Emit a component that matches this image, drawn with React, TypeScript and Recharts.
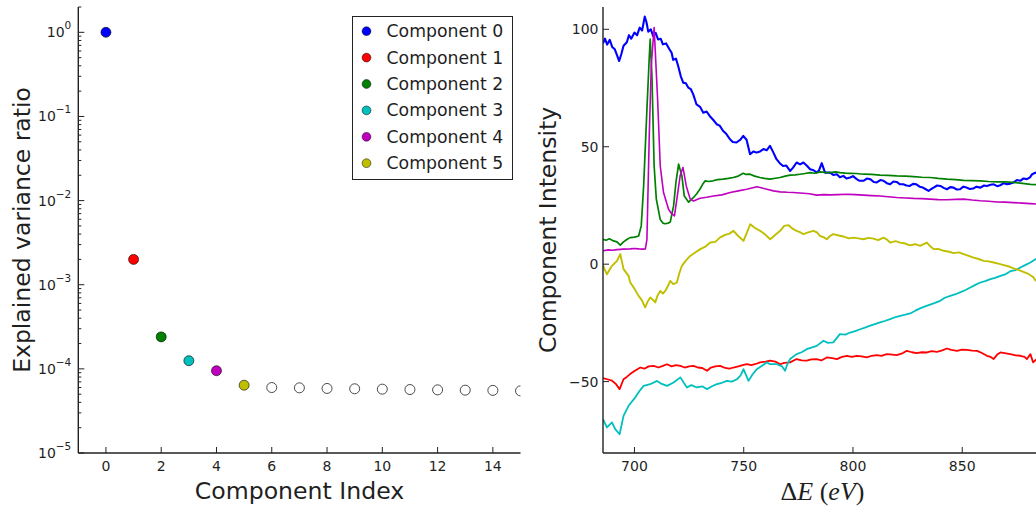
import React from 'react';
import { ScatterChart, Scatter, LineChart, Line, XAxis, YAxis, Label } from 'recharts';

const FONT = '"DejaVu Sans", sans-serif';
const INK = '#1f1f1f';
const FRAME = { stroke: '#222', strokeWidth: 1.4 };

// ---------- data: left panel ----------
const componentNames = ['Component 0', 'Component 1', 'Component 2', 'Component 3', 'Component 4', 'Component 5'];
const componentColors = ['#0000ff', '#ff0000', '#008000', '#00bfbf', '#bf00bf', '#bfbf00'];
const componentIndex = [0, 1, 2, 3, 4, 5, 6, 7, 8, 9, 10, 11, 12, 13, 14, 15];
const explainedVariance = [1.0, 2.0e-3, 2.4e-4, 1.25e-4, 9.5e-5, 6.4e-5, 6.0e-5, 5.95e-5, 5.85e-5, 5.8e-5, 5.74e-5, 5.68e-5, 5.63e-5, 5.58e-5, 5.55e-5, 5.48e-5];
const indexTicks = [0, 2, 4, 6, 8, 10, 12, 14];
const decadeTicks = [1e-5, 1e-4, 1e-3, 1e-2, 1e-1, 1];

// ---------- data: right panel (energy eV, intensity) ----------
const energyTicks = [700, 750, 800, 850];
const intensityTicks = [-50, 0, 50, 100];

const comp0: [number, number][] = [
  [685.6, 94], [686.5, 96], [687.5, 93.5], [688.7, 95.5], [689.8, 92.5], [691, 91.5], [692, 89], [693, 86.5], [694, 89.5], [695, 93],
  [696.5, 94.5], [697.5, 97.5], [698.5, 96], [700, 98.6], [701.2, 97.5], [702.4, 100.7], [703.5, 99.5], [704.7, 105.4], [705.5, 103], [706.3, 99],
  [707.5, 100], [708.6, 97], [709.7, 98.5], [710.8, 95.7], [712, 96], [713, 93.6], [714.5, 94], [716, 91.5], [717, 90], [717.7, 87],
  [719, 87.5], [720, 84.4], [721.2, 80], [722.3, 77.3], [723.5, 77], [724.6, 75.2], [725.8, 74.5], [726.9, 72.3], [728.4, 68], [730, 67],
  [731.5, 64.5], [733, 65], [734.5, 63], [736, 61.5], [737.6, 59.6], [739, 59], [740.6, 56.7], [742, 55.5], [743.7, 53.2], [745, 52],
  [746.7, 51.8], [748.5, 53], [749.8, 54.6], [751.3, 53], [752.9, 46.8], [754.5, 48], [755.9, 47.5], [757.5, 48], [759, 49], [760.5, 48.5],
  [762, 50.4], [763.6, 47.5], [765, 44.7], [766.5, 43], [768, 41.8], [769.5, 42], [771.2, 39.7], [772.5, 41], [774.2, 43.3], [775.8, 42.5],
  [777.3, 43.3], [778.8, 42], [780.4, 40.4], [782, 40], [783.4, 39], [784.5, 40], [785.7, 43], [787.2, 39], [789.5, 39], [791, 38],
  [792.6, 38.3], [794, 37], [795.6, 37.6], [797, 36.5], [798.7, 36.9], [800, 37.5], [801.7, 36.2], [803, 35.5], [804.8, 35.5], [806.5, 36.5],
  [807.9, 36.2], [809.5, 35], [810.9, 34.8], [812.5, 35.8], [814, 35.5], [815.5, 34.5], [817, 34], [818.5, 35.2], [820, 35], [821.5, 34],
  [823, 34], [824.5, 33.5], [826, 33.3], [827.5, 34.2], [829, 34], [830.5, 33], [832, 32.6], [833.5, 31.8], [834.6, 31.2], [835.8, 32],
  [836.9, 32.6], [838.5, 33.5], [840, 33.3], [841.5, 32.5], [843, 31.9], [844.5, 32.8], [846, 32.6], [847.5, 31.8], [849, 31.9], [850.5, 33],
  [852, 32.6], [853.5, 32], [855, 32.2], [856.5, 33], [858.3, 32.6], [860, 33.5], [861.3, 33.3], [863, 33.8], [864.4, 34], [866, 33.2],
  [867.4, 33.6], [869, 34.5], [870.5, 34], [872, 34.3], [873.5, 34.8], [875, 35.8], [876.6, 35.5], [878, 36.5], [879.6, 36.2], [881, 37],
  [882, 38.3], [883.5, 39], [885, 38], [886.5, 38.5],
];

const comp1: [number, number][] = [
  [685.6, -48.5], [687.5, -49], [689.7, -49.6], [691.5, -51], [693.2, -53.2], [695, -49], [696.5, -48], [698, -46.8], [700, -45.5], [702.7, -44],
  [704.5, -44.5], [706.5, -43.5], [708.8, -43.3], [711, -44], [713, -43.3], [714.9, -42.6], [717, -43.5], [719, -43], [721, -43.3], [723, -44],
  [725, -43.5], [727, -43.3], [729, -44], [731, -44.2], [733.2, -45.4], [735, -44], [737, -43.5], [739.2, -43.3], [741.5, -44.2], [743.5, -44.5],
  [745.3, -44], [747.5, -43.5], [749.5, -43], [751.4, -42.6], [753.5, -43], [755.5, -42.5], [757.5, -41.8], [760, -41.5], [762.1, -41.1], [764.5, -41.5],
  [766.7, -42.6], [768.5, -42], [771.2, -41.8], [774.2, -40.4], [776.5, -41], [778.8, -41.1], [781, -40.5], [783.4, -40.4], [785.5, -41], [788, -39.7],
  [790.5, -40], [792.6, -40.4], [795, -39.5], [797.2, -39], [799.5, -39.5], [801.7, -39], [804, -39.3], [806.3, -39.7], [808.5, -39], [810.9, -38.7],
  [813, -39], [815.5, -38.3], [818, -38.5], [820, -38.7], [822.5, -38], [824.6, -36.9], [827, -37.5], [829.2, -37.9], [831.5, -37.5], [833.8, -37.6],
  [836, -37], [838.4, -37.3], [840.5, -36.8], [843, -35.9], [845, -36.5], [847.6, -36.9], [850, -36.4], [852.2, -36.5], [854.5, -36.8], [856.8, -36.9],
  [859, -37.8], [861.3, -39], [863, -39.5], [864.4, -40.4], [866, -38.5], [867.5, -37.6], [870, -38], [872, -38.3], [874.5, -38.8], [876.6, -39],
  [878.5, -39.5], [879.6, -40.4], [881.2, -38.3], [882.4, -41.8], [884, -40.5], [886.5, -41],
];

const comp2: [number, number][] = [
  [685.6, 10.6], [687, 10.2], [688.5, 10.8], [690.4, 9.9], [692, 9.5], [693.5, 8.1], [695, 9.5], [696.5, 10.5], [698, 11.3], [700, 11.5],
  [701.9, 12], [703.1, 16.3], [704.2, 33.3], [705.7, 66], [706.8, 88.6], [707.2, 95.8], [708, 80], [709, 41.8], [710, 27.7], [711.8, 19],
  [713, 17.5], [714, 17.2], [715.5, 17.5], [716.4, 18], [717.9, 24.8], [719, 35], [720.2, 42.6], [721.7, 37.6], [722.8, 29], [724.8, 26.4],
  [727, 28.4], [728.5, 30], [730, 32], [731.2, 34], [732.4, 35.5], [734, 35.2], [736, 35.5], [738, 36], [740.6, 36.2], [743, 36.5],
  [745.2, 36.9], [747.5, 37.5], [749.8, 38.7], [751, 38.2], [752.9, 38.3], [755, 37.5], [757.4, 36.9], [759.5, 36.5], [762, 36.2], [764.5, 36.6],
  [766.6, 36.9], [769, 37.5], [771.2, 37.9], [773.5, 38], [775.8, 38.3], [778, 38.6], [780.4, 39], [782.5, 38.7], [784.9, 39.3], [787, 39.1],
  [789.5, 39], [792, 39.3], [794, 39], [796.5, 38.8], [798.7, 38.7], [801.5, 38.6], [804.8, 38.3], [808.5, 38.2], [812.4, 37.9], [816, 37.8],
  [820, 37.6], [824, 37.5], [827.7, 37.3], [831.5, 37], [835.3, 36.9], [839, 36.5], [843, 36.2], [847, 36], [850.6, 35.7], [854.5, 35.6],
  [858.3, 35.5], [862, 35.2], [865.9, 35], [869.5, 35], [873.5, 34.8], [877.5, 34.4], [881.2, 34], [884, 33.9], [886.5, 33.8],
];

const comp3: [number, number][] = [
  [685.6, -66], [687.4, -69.5], [689.7, -67.4], [691.2, -70.2], [693.2, -72.4], [695, -64.6], [697.3, -60.3], [700.4, -56.7], [702.3, -54], [704.2, -51.8],
  [707.2, -51.1], [710.3, -49.7], [712.5, -51], [714.9, -51.8], [717.9, -50.4], [721, -48.2], [724, -52.5], [726, -51.5], [728.6, -52.5], [731, -52],
  [733.2, -53.2], [735.5, -52], [737.7, -51.1], [740, -50.5], [742.3, -49.7], [744.5, -50], [746.9, -49], [748.5, -47.5], [749.9, -44.7], [752.2, -49.7],
  [754, -47], [756, -44.7], [758, -43.5], [760.6, -41.8], [762, -42.6], [765.2, -42.6], [767.5, -43.5], [768.9, -45.4], [770, -42.5], [771.2, -40.4],
  [774.2, -38.3], [776.5, -37.5], [778.8, -36.2], [781, -35.5], [783.4, -34.8], [786.5, -32.6], [788.5, -33.5], [791, -33.3], [794, -29.8], [796.5, -30],
  [798.7, -29.1], [801, -28.5], [803.3, -27.7], [805.5, -27], [807.9, -26.2], [810, -25.5], [812.4, -24.8], [814.5, -24.2], [817, -23.4], [819.5, -22.5],
  [821.6, -22], [824, -21.5], [826.2, -21], [828.5, -19.8], [830.7, -18.8], [833, -18], [835.3, -17.2], [837.5, -16.5], [839.9, -15.6], [842, -14.3],
  [844.5, -13.5], [847, -12.8], [849, -12], [851.5, -11], [853.7, -9.9], [856, -8.8], [858.3, -7.8], [860.5, -7.2], [862.9, -6.4], [865, -5.8],
  [867.5, -5], [870, -4.2], [872, -3], [874.5, -2.5], [876.6, -1.4], [879, -0.3], [881.2, 0.7], [883.5, 2.1], [885, 2.5], [886.5, 3],
];

const comp4: [number, number][] = [
  [685.6, 5.7], [688, 6.1], [690, 5.9], [692, 6.2], [695, 6.4], [698, 6.5], [700, 6.7], [702, 6.5], [704, 6.4], [705, 6.5],
  [705.7, 10.6], [706.8, 56], [707.7, 84.8], [709, 100.8], [710.6, 70], [711.8, 41.8], [713.3, 30.5], [715.6, 23.4], [717, 21.5], [718.3, 20.6],
  [719.4, 27.7], [720.9, 37.6], [722.2, 41.2], [723.7, 33.3], [725.5, 27.7], [727, 26.9], [730, 28.1], [733, 28.5], [736.2, 29], [740, 29.5],
  [743.8, 30.5], [747.5, 31.2], [751.4, 31.9], [756, 33], [758, 32.5], [760.6, 31.9], [763.6, 31.2], [766.7, 30.8], [770, 30.6], [772.7, 30.5],
  [777.3, 30.2], [780, 30], [783.4, 29.4], [786.5, 29.6], [789.5, 29.5], [793, 29.6], [797.2, 29.8], [801, 29.6], [804.8, 29.4], [808.5, 29.2],
  [812.4, 29], [816, 28.7], [820, 28.4], [824, 28.2], [827.7, 28], [831.5, 27.9], [835.3, 27.7], [839, 27.5], [843, 27.4], [847, 27.6],
  [850.6, 27.7], [854.5, 27.3], [858.3, 27], [862, 26.8], [865.9, 26.5], [869.5, 26.4], [873.5, 26.2], [877.5, 26], [881.2, 25.8], [884, 25.6],
  [886.5, 25.5],
];

const comp5: [number, number][] = [
  [685.6, -0.5], [687.4, -4.3], [689.7, -0.7], [692, 1.4], [693.5, 4.3], [695, -2.1], [697.3, -5], [698.1, -7.8], [700, -10.5], [701.9, -13.5],
  [703.5, -15.5], [704.9, -18.4], [706, -16], [707.2, -14.2], [708.3, -15], [709.5, -16.3], [710.5, -13.5], [711.8, -11.4], [713, -12.5], [714.1, -11.4],
  [715.2, -9.5], [716.4, -7.1], [717.8, -8.5], [719.4, -7.8], [720.5, -4], [721.7, -0.7], [723.5, 1.5], [725.5, 3.5], [727.8, 5], [730.1, 6.4],
  [732.5, 7.5], [734.7, 9.2], [737, 9.5], [739.2, 11.4], [741.5, 12.5], [743.5, 13], [745.3, 14.2], [747.5, 12], [749.9, 9.9], [751.5, 13.5],
  [753, 17], [755, 15.5], [757.5, 14.2], [760, 12.5], [762.1, 10.6], [764.5, 12.5], [766.7, 14.2], [768.5, 16.3], [770.5, 16.6], [772.5, 15],
  [774.2, 14.2], [776, 13.5], [777.3, 12.8], [779.5, 13.5], [781.9, 14.2], [783.5, 13.5], [784.9, 12], [786.5, 11.5], [788, 10.6], [789.5, 12],
  [791, 12.8], [793.5, 12.2], [795.6, 11.8], [798, 11], [800.2, 11.3], [802.5, 11], [804.8, 10.6], [807, 11.2], [809.4, 10.9], [811.5, 10.2],
  [814, 11.3], [815.5, 10.5], [817, 9.2], [819.5, 9.8], [821.6, 9.2], [824, 8.8], [826, 8], [828.5, 8.5], [830.7, 7.8], [832.3, 8.5],
  [833.8, 9.2], [835.5, 7.5], [836.9, 6.4], [839, 6.5], [841.5, 5.7], [844, 5.3], [846, 4.7], [848.5, 5], [850.6, 4.3], [853, 3.5],
  [855.2, 2.8], [857.5, 2.2], [859.8, 1.4], [862, 1.2], [864.4, 0.7], [866.5, 0.2], [869, -0.4], [871.5, -1], [873.5, -1.8], [876, -2.5],
  [878, -3.3], [880, -4], [881.2, -4.7], [882.5, -5.5], [883.5, -7], [885, -6.5], [886.5, -7.5],
];

const spectra = [comp0, comp1, comp2, comp3, comp4, comp5];
const lineWidths = [2.1, 1.8, 1.7, 1.8, 1.6, 1.9];

// ---------- layout ----------
const minorLogTicks: number[] = [];
for (let k = -5; k <= 0; k++) {
  for (let m = 2; m <= 9; m++) {
    const v = m * Math.pow(10, k);
    if (v <= 2) minorLogTicks.push(v);
  }
}
const allLogTicks = [...decadeTicks, ...minorLogTicks].sort((a, b) => a - b);
const isDecade = (v: number) => decadeTicks.some((d) => Math.abs(d - v) / d < 1e-6);

const supText = (exp: number) => (exp < 0 ? '\u2212' + String(-exp) : String(exp));
const fmtInt = (v: number) => (v < 0 ? '\u2212' + String(-v) : String(v));

const tickStroke = '#222';

const bottomTick = (labelled: boolean) => (p: any) => (
  <g>
    <line x1={p.x} x2={p.x} y1={p.y} y2={p.y - 6} stroke={tickStroke} strokeWidth={1} />
    {labelled && (
      <text x={p.x} y={p.y + 17.5} textAnchor="middle" fontSize={14} fontFamily={FONT} fill={INK}>
        {fmtInt(p.payload.value)}
      </text>
    )}
  </g>
);

const topTick = (p: any) => (
  <g>
    <line x1={p.x} x2={p.x} y1={p.y} y2={p.y + 6} stroke={tickStroke} strokeWidth={1} />
  </g>
);

const leftLogTick = (p: any) => {
  const v = p.payload.value;
  const major = isDecade(v);
  const exp = Math.round(Math.log10(v));
  return (
    <g>
      <line x1={p.x} x2={p.x + (major ? 6 : 3)} y1={p.y} y2={p.y} stroke={tickStroke} strokeWidth={1} />
      {major && (
        <text x={p.x - 7} y={p.y} textAnchor="end" fontSize={14} fontFamily={FONT} fill={INK} dominantBaseline="central">
          <tspan>10</tspan>
          <tspan dy={-7} fontSize={10.5}>{supText(exp)}</tspan>
        </text>
      )}
    </g>
  );
};

const rightLogTick = (p: any) => {
  const major = isDecade(p.payload.value);
  return (
    <g>
      <line x1={p.x} x2={p.x - (major ? 6 : 3)} y1={p.y} y2={p.y} stroke={tickStroke} strokeWidth={1} />
    </g>
  );
};

const leftLinTick = (p: any) => (
  <g>
    <line x1={p.x} x2={p.x + 6} y1={p.y} y2={p.y} stroke={tickStroke} strokeWidth={1} />
    <text x={p.x - 4.5} y={p.y} textAnchor="end" fontSize={14} fontFamily={FONT} fill={INK} dominantBaseline="central">
      {fmtInt(p.payload.value)}
    </text>
  </g>
);

const rightLinTick = (p: any) => (
  <g>
    <line x1={p.x} x2={p.x - 6} y1={p.y} y2={p.y} stroke={tickStroke} strokeWidth={1} />
  </g>
);

const dotShape = (fill: string, stroke: string, sw: number) => (p: any) => (
  <circle cx={p.cx} cy={p.cy} r={5} fill={fill} stroke={stroke} strokeWidth={sw} />
);

const Legend6 = () => (
  <div
    style={{
      position: 'absolute', left: 351.5, top: 16, width: 161, height: 164, boxSizing: 'border-box',
      border: '1.6px solid #222', background: '#fff',
    }}
  >
    <svg width={158} height={161} style={{ display: 'block' }}>
      {componentNames.map((n, i) => (
        <g key={n}>
          <circle cx={13.5} cy={14.2 + i * 26.4} r={4.4} fill={componentColors[i]} stroke="#000" strokeWidth={0.5} />
          <text x={33.5} y={14.2 + i * 26.4} fontSize={17.3} fontFamily={FONT} fill={INK} dominantBaseline="central">
            {n}
          </text>
        </g>
      ))}
    </svg>
  </div>
);

export default function App() {
  const points = componentIndex.map((x, i) => ({ x, y: explainedVariance[i] }));
  const seriesData = spectra.map((s) => s.map(([e, v]) => ({ e, v })));
  return (
    <div
      style={{
        position: 'fixed', left: 0, top: 0, width: 1036, height: 508, overflow: 'hidden',
        background: '#fff', fontFamily: FONT,
      }}
    >
      <div style={{ position: 'absolute', left: 0, top: 0 }}>
        <ScatterChart width={540} height={508} margin={{ top: 7, right: 19.5, bottom: 0, left: 0 }}>
          <XAxis
            xAxisId="b" type="number" dataKey="x" domain={[-1, 15]} allowDataOverflow ticks={indexTicks} interval={0}
            height={55} tickSize={0} tickMargin={0} tickLine={false} axisLine={FRAME} tick={bottomTick(true)}
          >
            <Label
              content={() => (
                <text x={299.5} y={499} textAnchor="middle" fontSize={23.6} fontFamily={FONT} fill={INK}>
                  Component Index
                </text>
              )}
            />
          </XAxis>
          <XAxis
            xAxisId="t" orientation="top" type="number" domain={[-1, 15]} allowDataOverflow ticks={indexTicks} interval={0}
            height={0} tickSize={0} tickMargin={0} tickLine={false} axisLine={FRAME} tick={topTick}
          />
          <YAxis
            yAxisId="l" type="number" dataKey="y" scale="log" domain={[1e-5, 2]} allowDataOverflow ticks={allLogTicks} interval={0}
            width={78.3} tickSize={0} tickMargin={0} tickLine={false} axisLine={FRAME} tick={leftLogTick}
          >
            <Label
              content={() => (
                <text x={29.5} y={230} transform="rotate(-90 29.5 230)" textAnchor="middle" fontSize={23.5} fontFamily={FONT} fill={INK}>
                  Explained variance ratio
                </text>
              )}
            />
          </YAxis>
          <YAxis
            yAxisId="r" orientation="right" type="number" scale="log" domain={[1e-5, 2]} allowDataOverflow ticks={allLogTicks} interval={0}
            width={0} tickSize={0} tickMargin={0} tickLine={false} axisLine={FRAME} tick={rightLogTick}
          />
          {componentNames.map((n, i) => (
            <Scatter
              key={n} name={n} xAxisId="b" yAxisId="l" data={[points[i]]} isAnimationActive={false}
              shape={dotShape(componentColors[i], '#000', 0.6)}
            />
          ))}
          <Scatter
            name="rest" xAxisId="b" yAxisId="l" data={points.slice(componentNames.length)} isAnimationActive={false}
            shape={dotShape('#fff', '#4a4a4a', 1)}
          />
        </ScatterChart>
        <Legend6 />
      </div>

      <div style={{ position: 'absolute', left: 530, top: 0 }}>
        <LineChart width={522} height={508} margin={{ top: 7, right: 10, bottom: 0, left: 0 }}>
          <XAxis
            xAxisId="b" type="number" dataKey="e" domain={[685.6, 886.5]} allowDataOverflow ticks={energyTicks} interval={0}
            height={55} tickSize={0} tickMargin={0} tickLine={false} axisLine={FRAME} tick={bottomTick(true)}
          >
            <Label
              content={() => (
                <text x={292.5} y={500} textAnchor="middle" fontSize={26} fontFamily='"Liberation Serif", serif' fill={INK}>
                  <tspan>Δ</tspan>
                  <tspan fontStyle="italic">E</tspan>
                  <tspan> (</tspan>
                  <tspan fontStyle="italic">eV</tspan>
                  <tspan>)</tspan>
                </text>
              )}
            />
          </XAxis>
          <XAxis
            xAxisId="t" orientation="top" type="number" domain={[685.6, 886.5]} allowDataOverflow ticks={energyTicks} interval={0}
            height={0} tickSize={0} tickMargin={0} tickLine={false} axisLine={FRAME} tick={topTick}
          />
          <YAxis
            yAxisId="l" type="number" domain={[-80.4, 109.5]} allowDataOverflow ticks={intensityTicks} interval={0}
            width={73} tickSize={0} tickMargin={0} tickLine={false} axisLine={FRAME} tick={leftLinTick}
          >
            <Label
              content={() => (
                <text x={26} y={230} transform="rotate(-90 26 230)" textAnchor="middle" fontSize={23.5} fontFamily={FONT} fill={INK}>
                  Component Intensity
                </text>
              )}
            />
          </YAxis>
          <YAxis
            yAxisId="r" orientation="right" type="number" domain={[-80.4, 109.5]} allowDataOverflow ticks={intensityTicks} interval={0}
            width={0} tickSize={0} tickMargin={0} tickLine={false} axisLine={FRAME} tick={rightLinTick}
          />
          {seriesData.map((d, i) => (
            <Line
              key={componentNames[i]} name={componentNames[i]} xAxisId="b" yAxisId="l" data={d} dataKey="v" type="linear"
              stroke={componentColors[i]} strokeWidth={lineWidths[i]} dot={false} activeDot={false} isAnimationActive={false}
              strokeLinejoin="round"
            />
          ))}
        </LineChart>
      </div>
    </div>
  );
}
